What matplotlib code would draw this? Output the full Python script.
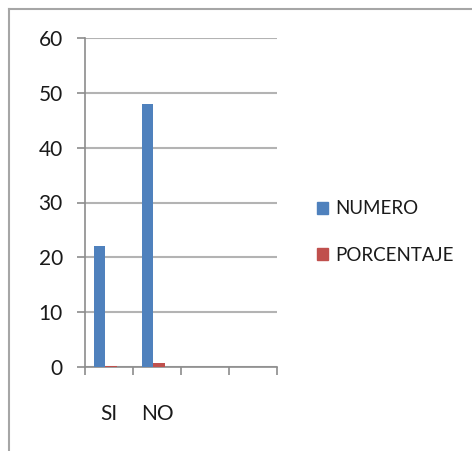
import numpy as np
import matplotlib.pyplot as plt
from matplotlib.lines import Line2D

# datos de la encuesta
categorias = ["SI", "NO", "", ""]
numero = [22, 48, 0, 0]
porcentaje = [0.1, 0.7, 0, 0]

azul = "#4F81BD"
rojo = "#C0504D"
gris = "#8c8c8c"

plt.rcParams['font.family'] = ['Lato', 'DejaVu Sans']
plt.rcParams['text.color'] = "#1a1a1a"

fig = plt.figure(figsize=(4.72, 4.51), dpi=100)
W, H = 472, 451
ax = fig.add_axes([85 / W, 84 / H, 192 / W, 329 / H])

x = np.arange(len(categorias))
ancho = 0.24
ax.bar(x - ancho / 2 - 0.08, numero, ancho, color=azul, zorder=3)
ax.bar(x + ancho / 2 - 0.08, porcentaje, ancho, color=rojo, zorder=3)

ax.set_xlim(-0.5, len(categorias) - 0.5)
ax.set_ylim(0, 60)
ax.set_yticks(range(0, 61, 10))
ax.yaxis.grid(True, color="#b3b3b3", linewidth=1.5, zorder=0)

# ticks entre categorias
ax.set_xticks(np.arange(-0.5, len(categorias)), minor=False)
ax.set_xticklabels([])
ax.set_xticks(x, minor=True)
ax.set_xticklabels(categorias, minor=True)
ax.tick_params(axis="x", which="minor", length=0, pad=27, labelsize=15, labelcolor="#1a1a1a")
ax.tick_params(axis="x", which="major", length=6, color=gris, width=1.2)
ax.tick_params(axis="y", length=6, color=gris, width=1.2, pad=10, labelsize=15, labelcolor="#1a1a1a")

for lado in ["top", "right"]:
    ax.spines[lado].set_visible(False)
for lado in ["left", "bottom"]:
    ax.spines[lado].set_color(gris)
    ax.spines[lado].set_linewidth(1.2)

# leyenda
fig.legend(
    handles=[plt.Rectangle((0, 0), 1, 1, color=azul), plt.Rectangle((0, 0), 1, 1, color=rojo)],
    labels=["NUMERO", "PORCENTAJE"],
    loc="center left", bbox_to_anchor=(300 / W, 1 - 232 / H),
    frameon=False, fontsize=13.5, handlelength=0.6, handleheight=0.6,
    handletextpad=0.4, labelspacing=1.55,
)

# marco del grafico
fig.add_artist(Line2D([9 / W, 1], [1 - 9 / H, 1 - 9 / H], color="#a6a6a6", lw=1.5))
fig.add_artist(Line2D([9 / W, 9 / W], [0, 1 - 9 / H], color="#a6a6a6", lw=1.5))

fig.savefig("out.png", dpi=100)
